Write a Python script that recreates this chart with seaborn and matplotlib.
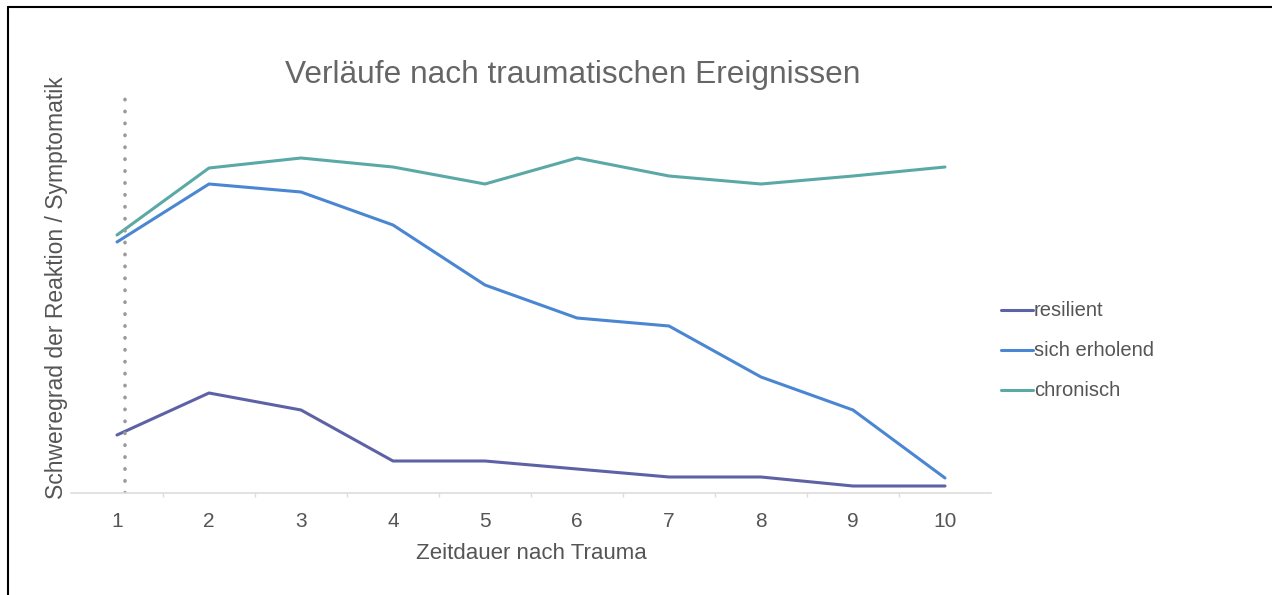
import seaborn as sns
import matplotlib.pyplot as plt
import pandas as pd

######################################################################################################
# Daten
######################################################################################################
zeit = [1, 2, 3, 4, 5, 6, 7, 8, 9, 10]
resilient = [14.5, 25, 20.75, 8, 8, 6, 4, 4, 1.75, 1.75]
sich_erholend = [62.75, 77.25, 75.25, 67, 52, 43.75, 41.75, 29, 20.75, 3.75]
chronisch = [64.5, 81.25, 83.75, 81.5, 77.25, 83.75, 79.25, 77.25, 79.25, 81.5]
verlaeufe = ["resilient", "sich erholend", "chronisch"]
farben = ["#5d62a6", "#4a86d2", "#5aa9a6"]

df = pd.DataFrame({"Zeit": zeit * 3,
                   "Wert": resilient + sich_erholend + chronisch,
                   "Verlauf": [v for v in verlaeufe for _ in zeit]})

######################################################################################################
# Grafik
######################################################################################################
sns.set_theme(style="white")
plt.rcParams['font.family'] = ['Liberation Sans', 'DejaVu Sans']

fig = plt.figure(figsize=(12.72, 5.95), dpi=100)
ax = fig.add_axes([71 / 1272, 102 / 595, 920 / 1272, 400 / 595])

sns.lineplot(data=df, x="Zeit", y="Wert", hue="Verlauf", hue_order=verlaeufe,
             palette=farben, linewidth=2.2, ax=ax, legend=False)

# gepunktete Linie kurz nach dem Ereignis
ax.plot([1.09, 1.09], [0, 98.5], color="#9a9a9a", linestyle=(0, (0.1, 3.2)),
        linewidth=2.6, dash_capstyle="round")

ax.set_xlim(0.5, 10.5)
ax.set_ylim(0, 100)
ax.set_xticks(zeit)
ax.set_xticks([z + 0.5 for z in zeit[:-1]], minor=True)
ax.set_yticks([])
ax.tick_params(axis="x", which="major", length=0, labelsize=15, labelcolor="#555555", pad=14)
ax.tick_params(axis="x", which="minor", length=3, color="#dddddd", bottom=True)
for s in ["top", "right", "left"]:
    ax.spines[s].set_visible(False)
ax.spines["bottom"].set_color("#dddddd")
ax.spines["bottom"].set_linewidth(1.2)

ax.set_xlabel("Zeitdauer nach Trauma", fontsize=16, color="#555555", labelpad=8)
ax.set_ylabel("")
fig.text(57 / 1272, 1 - 288 / 595, "Schweregrad der Reaktion / Symptomatik", rotation=90,
         fontsize=16.5, color="#555555", ha="center", va="center")
fig.text(573 / 1272, 1 - 75 / 595, "Verläufe nach traumatischen Ereignissen",
         fontsize=22.8, color="#666666", ha="center", va="center")

# Legende
for i, (v, f) in enumerate(zip(verlaeufe, farben)):
    y = 1 - (310 + 40 * i) / 595
    fig.add_artist(plt.Line2D([1001 / 1272, 1033 / 1272], [y, y], color=f, linewidth=2.2))
    fig.text(1034 / 1272, y, v, fontsize=14.5, color="#555555", va="center", ha="left")

# Rahmen links und oben
fig.add_artist(plt.Line2D([8 / 1272, 8 / 1272], [0, 1 - 7 / 595], color="black", linewidth=1.5))
fig.add_artist(plt.Line2D([8 / 1272, 1], [1 - 7 / 595, 1 - 7 / 595], color="black", linewidth=1.5))

fig.savefig("out.png", dpi=100)
